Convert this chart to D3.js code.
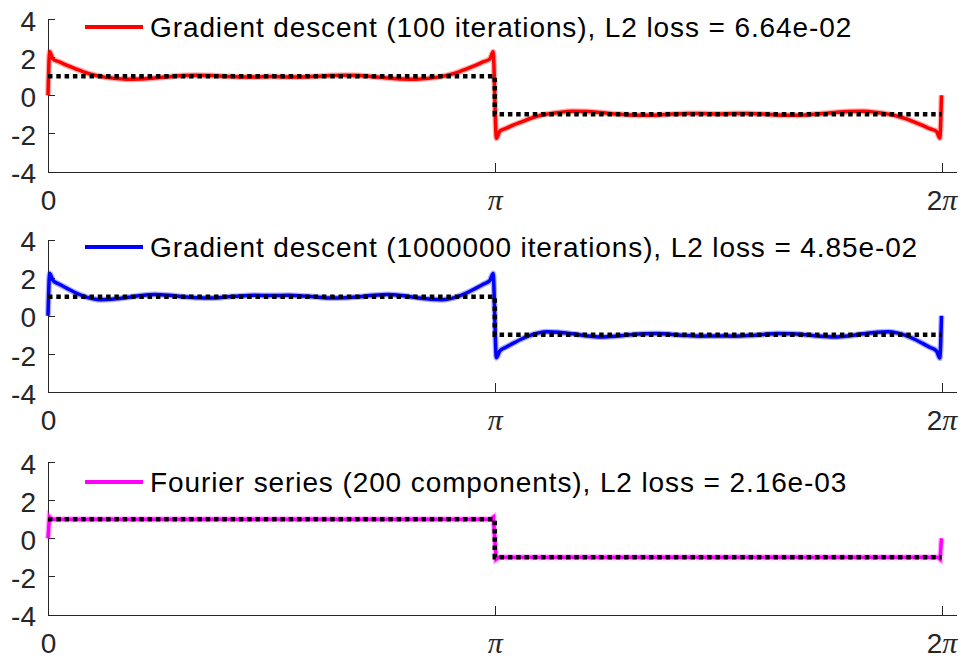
<!DOCTYPE html>
<html lang="en">
<head>
  <meta charset="UTF-8">
  <title>Gradient descent vs Fourier series</title>
  <script src="https://d3js.org/d3.v7.min.js"></script>
  <style>
    body { margin: 0; background: #fff; }
    .axis path, .axis line { stroke: #262626; stroke-width: 1; shape-rendering: crispEdges; }
    .axis text { font-family: 'Liberation Sans', Arial, sans-serif; font-size: 28px; fill: #262626; }
    .legend text { font-family: 'Liberation Sans', Arial, sans-serif; font-size: 28px; letter-spacing: 0.9px; fill: #000; }
  </style>
</head>
<body>
  <svg width="967" height="662"></svg>

  <script>
    // shared x samples (radians) for the two gradient descent fits
    const gdX = [
      0, 0.012, 0.035, 0.08, 0.13, 0.19, 0.25, 0.31, 0.37, 0.45,
      0.55, 0.65, 0.75, 0.85, 0.95, 1.05, 1.15, 1.25, 1.35, 1.45,
      1.57, 1.69, 1.79, 1.89, 1.99, 2.09, 2.19, 2.29, 2.39, 2.49,
      2.59, 2.69, 2.77, 2.83, 2.89, 2.95, 3.01, 3.06, 3.107, 3.13,
      3.153, 3.177, 3.22, 3.27, 3.33, 3.39, 3.45, 3.51, 3.59, 3.69,
      3.79, 3.89, 3.99, 4.09, 4.19, 4.29, 4.39, 4.49, 4.59, 4.71,
      4.83, 4.93, 5.03, 5.13, 5.23, 5.33, 5.43, 5.53, 5.63, 5.73,
      5.83, 5.91, 5.97, 6.03, 6.09, 6.15, 6.20, 6.248, 6.271, 6.283
    ];

    const gd100 = [
      0, 2.28, 1.9, 1.75, 1.58, 1.4, 1.23, 1.09, 0.99, 0.9,
      0.84, 0.85, 0.9, 0.97, 1.03, 1.05, 1.03, 0.99, 0.96, 0.96,
      0.98, 0.96, 0.96, 0.99, 1.03, 1.05, 1.03, 0.97, 0.9, 0.85,
      0.84, 0.9, 0.99, 1.09, 1.23, 1.4, 1.58, 1.75, 1.9, 2.28,
      -2.26, -1.88, -1.74, -1.57, -1.4, -1.22, -1.08, -0.99, -0.9, -0.84,
      -0.85, -0.91, -0.98, -1.03, -1.05, -1.03, -0.99, -0.96, -0.96, -0.98,
      -0.96, -0.96, -0.99, -1.03, -1.05, -1.03, -0.97, -0.9, -0.85, -0.84,
      -0.9, -0.99, -1.09, -1.23, -1.4, -1.58, -1.75, -1.9, -2.24, 0
    ];

    const gd1e6 = [
      0, 2.22, 1.85, 1.65, 1.45, 1.22, 1.03, 0.9, 0.84, 0.86,
      0.95, 1.06, 1.12, 1.08, 1.0, 0.94, 0.93, 0.98, 1.04, 1.07,
      1.06, 1.07, 1.04, 0.98, 0.93, 0.94, 1.0, 1.08, 1.12, 1.06,
      0.95, 0.86, 0.84, 0.9, 1.03, 1.22, 1.45, 1.65, 1.85, 2.22,
      -2.2, -1.85, -1.65, -1.45, -1.22, -1.03, -0.9, -0.84, -0.86, -0.95,
      -1.06, -1.12, -1.08, -1.0, -0.94, -0.93, -0.98, -1.04, -1.07, -1.06,
      -1.07, -1.04, -0.98, -0.93, -0.94, -1.0, -1.08, -1.12, -1.06, -0.95,
      -0.86, -0.84, -0.9, -1.03, -1.22, -1.45, -1.65, -1.85, -2.22, 0
    ];

    const fourierX = [0, 0.01, 0.025, 0.05, 1.0, 2.0, 3.09, 3.115, 3.132, 3.151,
      3.168, 3.19, 4.0, 5.0, 6.0, 6.233, 6.258, 6.273, 6.283];
    const fourier = [0, 1.12, 1.0, 1.0, 1.0, 1.0, 1.0, 1.0, 1.1, -1.1,
      -1.0, -1.0, -1.0, -1.0, -1.0, -1.0, -1.0, -1.1, 0];

    // target square wave
    const targetX = [0, 3.1416, 3.1416, 6.2832];
    const target = [1, 1, -1, -1];

    const labels = [
      'Gradient descent (100 iterations), L2 loss = 6.64e-02',
      'Gradient descent (1000000 iterations), L2 loss = 4.85e-02',
      'Fourier series (200 components), L2 loss = 2.16e-03'
    ];
    const colors = ['#ff0000', '#0000ff', '#ff00ff'];

    const yTicks = [-4, -2, 0, 2, 4];
    const xTicks = [0, Math.PI, 2 * Math.PI];
    const xTickLabels = [['0', ''], ['', 'π'], ['2', 'π']];

    const panels = [
      { xs: gdX, ys: gd100, top: 19, legendY: 27 },
      { xs: gdX, ys: gd1e6, top: 239.5, legendY: 247 },
      { xs: fourierX, ys: fourier, top: 462, legendY: 482 }
    ];
    const panelH = 152.5;

    const svg = d3.select('svg');

    const x = d3.scaleLinear()
      .domain([0, 6.385])
      .range([48, 956]);

    panels.forEach((p, i) => {
      const y = d3.scaleLinear()
        .domain([-4, 4])
        .range([p.top + panelH, p.top]);

      const g = svg.append('g');

      // x axis
      const xa = g.append('g')
        .attr('class', 'axis')
        .attr('transform', `translate(0, ${p.top + panelH})`)
        .call(d3.axisBottom(x).tickValues(xTicks).tickSizeInner(-9).tickSizeOuter(0).tickFormat(''));
      xa.selectAll('.tick').append('text')
        .attr('y', 38)
        .attr('text-anchor', 'middle')
        .each(function(d, k) {
          const t = d3.select(this);
          const [num, sym] = xTickLabels[k];
          if (num) t.append('tspan').text(num);
          if (sym) t.append('tspan')
            .style('font-family', "'Liberation Serif', 'Times New Roman', serif")
            .style('font-style', 'italic')
            .style('font-size', '30px')
            .text(sym);
        });

      // y axis
      g.append('g')
        .attr('class', 'axis')
        .attr('transform', `translate(${x(0)}, 0)`)
        .call(d3.axisLeft(y).tickValues(yTicks).tickSizeInner(-7).tickSizeOuter(0)
          .tickPadding(12).tickFormat(d => String(d)))
        .selectAll('text')
        .attr('dy', '0.4em');

      // fitted curve (soft halo + core to imitate the noisy trace)
      const line = d3.line()
        .x((d, k) => x(p.xs[k]))
        .y(d => y(d))
        .curve(i < 2 ? d3.curveMonotoneX : d3.curveLinear);

      g.append('path')
        .datum(p.ys)
        .attr('fill', 'none')
        .attr('stroke', colors[i])
        .attr('stroke-opacity', 0.3)
        .attr('stroke-width', 6)
        .attr('d', line);

      g.append('path')
        .datum(p.ys)
        .attr('fill', 'none')
        .attr('stroke', colors[i])
        .attr('stroke-width', 3.5)
        .attr('d', line);

      // target square wave, dotted
      const tline = d3.line()
        .x((d, k) => x(targetX[k]))
        .y(d => y(d));

      g.append('path')
        .datum(target)
        .attr('fill', 'none')
        .attr('stroke', '#000')
        .attr('stroke-width', 4.5)
        .attr('stroke-dasharray', '4.5 3.8')
        .attr('d', tline);

      // legend
      const lg = g.append('g').attr('class', 'legend');
      lg.append('line')
        .attr('x1', 85).attr('x2', 143)
        .attr('y1', p.legendY).attr('y2', p.legendY)
        .attr('stroke', colors[i])
        .attr('stroke-width', 4);
      lg.append('text')
        .attr('x', 150)
        .attr('y', p.legendY + 9.8)
        .text(labels[i]);
    });
  </script>
</body>
</html>
